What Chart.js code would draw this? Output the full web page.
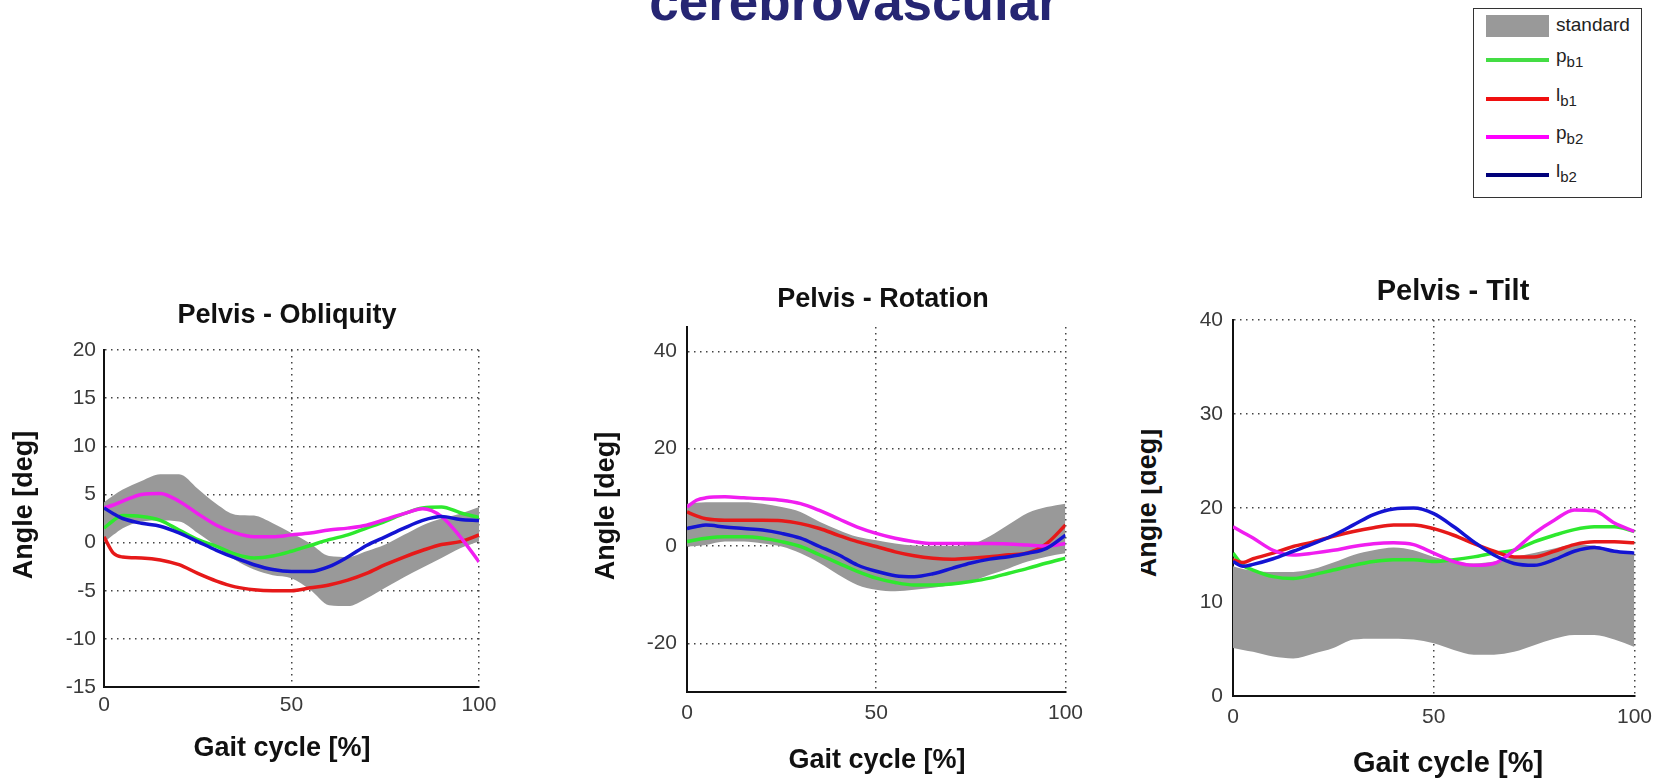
<!DOCTYPE html>
<html>
<head>
<meta charset="utf-8">
<script src="https://cdn.jsdelivr.net/npm/chart.js@4.4.0/dist/chart.umd.min.js"></script>
<style>
  body { margin:0; width:1663px; height:781px; overflow:hidden; background:#fff; position:relative;
         font-family:"Liberation Sans", Arial, sans-serif; }
  canvas { position:absolute; }
  #heading { position:absolute; left:854px; top:-25px; transform:translateX(-50%);
             font:bold 53px/53px "Liberation Sans", Arial, sans-serif; color:#262673; white-space:nowrap; }
  #legend { position:absolute; left:1473px; top:8px; width:167px; height:188px;
            border:1.5px solid #333; background:#fff; color:#222; font-size:19px; }
  #legend .row { position:absolute; left:0; height:0; }
  #legend .swatch { position:absolute; left:12px; width:63px; }
  #legend .txt { position:absolute; left:82px; white-space:nowrap; line-height:20px; top:-11px; }
  #legend sub { font-size:15px; vertical-align:-5px; }
  #tiltClip { position:absolute; left:1141px; top:400px; width:40px; height:200px; overflow:hidden; }
  #tiltLabel { position:absolute; left:6px; top:103px; white-space:nowrap; line-height:27px;
               transform:translate(-50%,-50%) rotate(-90deg);
               font:bold 27px/27px "Liberation Sans", Arial, sans-serif; color:#111; }
</style>
</head>
<body>
<div id="heading">cerebrovascular</div>
<div id="legend"></div>
<div id="tiltClip"><div id="tiltLabel">Angle [deg]</div></div>
<canvas id="obliquity" width="504" height="496" style="left:0px;top:270px"></canvas>
<canvas id="rotation" width="500" height="518" style="left:592px;top:260px"></canvas>
<canvas id="tilt" width="488" height="531" style="left:1173px;top:250px"></canvas>
<script>
// gait cycle samples [%]
const gait = [0, 2.5, 5, 10, 15, 20, 25, 30, 35, 40, 45, 50, 55, 60, 65, 70, 75, 80, 85, 90, 95, 100];
const gaitTicks = [0, 50, 100];

// Pelvis - Obliquity [deg]
const obliqUpper = [4.2, 4.9, 5.5, 6.4, 7.1, 7.1, 5.6, 4.0, 2.9, 2.8, 2.0, 1.0, -0.1, -1.4, -1.5, -0.9, -0.2, 0.8, 1.8, 2.5, 3.0, 3.7];
const obliqLower = [0.0, 0.8, 1.5, 2.2, 2.3, 2.2, 1.0, -0.4, -1.8, -2.8, -3.4, -3.7, -4.9, -6.5, -6.6, -5.8, -4.7, -3.6, -2.6, -1.6, -0.6, 0.1];
const obliqPb1 = [1.5, 2.3, 2.8, 2.7, 2.3, 1.3, 0.3, -0.4, -1.2, -1.6, -1.4, -0.9, -0.3, 0.3, 0.8, 1.5, 2.2, 3.0, 3.6, 3.7, 3.1, 2.6];
const obliqLb1 = [0.6, -1.1, -1.5, -1.6, -1.8, -2.3, -3.2, -4.0, -4.6, -4.9, -5.0, -5.0, -4.7, -4.4, -3.9, -3.2, -2.3, -1.5, -0.8, -0.2, 0.1, 0.8];
const obliqPb2 = [3.6, 3.9, 4.3, 5.0, 5.1, 4.3, 3.0, 1.8, 1.0, 0.6, 0.6, 0.8, 1.0, 1.3, 1.5, 1.8, 2.4, 3.0, 3.5, 2.7, 0.6, -2.0];
const obliqLb2 = [3.6, 3.0, 2.5, 2.0, 1.7, 1.0, 0.1, -0.8, -1.6, -2.3, -2.8, -3.0, -3.0, -2.5, -1.5, -0.3, 0.6, 1.5, 2.3, 2.7, 2.4, 2.3];
const obliqTicks = [-15, -10, -5, 0, 5, 10, 15, 20];

// Pelvis - Rotation [deg]
const rotUpper = [8.7, 8.9, 9.0, 9.0, 9.0, 8.7, 8.0, 7.0, 5.0, 3.3, 1.9, 1.2, 0.5, 0.1, 0.0, 0.0, 0.3, 2.0, 4.4, 6.8, 8.0, 8.7];
const rotLower = [-0.1, 0.0, 0.2, 0.9, 0.9, 0.5, -0.1, -1.5, -3.5, -5.9, -8.0, -9.0, -9.3, -9.0, -8.6, -8.0, -7.3, -5.9, -4.6, -3.2, -2.2, -1.5];
const rotPb1 = [0.9, 1.3, 1.6, 1.9, 1.9, 1.6, 0.9, -0.1, -1.8, -3.5, -5.2, -6.6, -7.5, -8.0, -8.0, -7.8, -7.3, -6.6, -5.6, -4.6, -3.5, -2.5];
const rotLb1 = [7.0, 6.2, 5.6, 5.3, 5.3, 5.3, 5.2, 4.6, 3.6, 2.2, 0.9, -0.1, -1.2, -2.0, -2.5, -2.7, -2.5, -2.2, -1.8, -1.4, 0.5, 4.3];
const rotPb2 = [8.0, 9.4, 9.9, 10.1, 9.9, 9.7, 9.4, 8.7, 7.3, 5.6, 3.9, 2.6, 1.6, 0.9, 0.5, 0.5, 0.5, 0.5, 0.4, 0.2, 0.0, 0.5];
const rotLb2 = [3.6, 4.0, 4.3, 3.9, 3.6, 3.3, 2.6, 1.6, -0.1, -1.8, -3.9, -5.2, -6.1, -6.3, -5.7, -4.6, -3.5, -2.7, -2.2, -1.5, -0.5, 2.2];
const rotTicks = [-20, 0, 20, 40];

// Pelvis - Tilt [deg]
const tiltUpper = [13.8, 13.5, 13.3, 13.2, 13.2, 13.5, 14.2, 15.0, 15.5, 15.8, 15.5, 14.8, 14.3, 14.1, 14.3, 14.8, 15.2, 15.7, 16.1, 16.0, 15.5, 15.2];
const tiltLower = [5.1, 4.9, 4.7, 4.2, 4.0, 4.5, 5.1, 6.0, 6.1, 6.1, 6.0, 5.6, 4.9, 4.4, 4.4, 4.7, 5.4, 6.1, 6.5, 6.5, 6.0, 5.2];
const tiltPb1 = [15.2, 13.9, 13.4, 12.7, 12.5, 12.9, 13.4, 13.9, 14.3, 14.5, 14.5, 14.3, 14.5, 14.8, 15.2, 15.5, 16.4, 17.1, 17.7, 18.0, 18.0, 17.5];
const tiltLb1 = [14.5, 14.2, 14.6, 15.2, 15.9, 16.4, 17.0, 17.5, 17.9, 18.2, 18.2, 17.8, 17.1, 16.2, 15.4, 14.8, 14.8, 15.4, 16.1, 16.4, 16.4, 16.3];
const tiltPb2 = [18.0, 17.4, 16.8, 15.5, 15.0, 15.2, 15.5, 15.9, 16.2, 16.3, 16.1, 15.2, 14.3, 13.9, 14.1, 15.5, 17.3, 18.7, 19.8, 19.7, 18.4, 17.5];
const tiltLb2 = [14.3, 13.8, 14.0, 14.6, 15.4, 16.2, 17.1, 18.2, 19.3, 19.9, 20.0, 19.4, 18.0, 16.4, 15.0, 14.1, 13.9, 14.5, 15.4, 15.8, 15.4, 15.2];
const tiltTicks = [0, 10, 20, 30, 40];

const seriesBase = ['p', 'l', 'p', 'l'];
const seriesSub = ['b1', 'b1', 'b2', 'b2'];
const lineColors = ['#2ee82e', '#e61919', '#f01ef0', '#1414d2'];
const legendColors = ['#44dd44', '#f01010', '#ff00ff', '#00007a'];
const bandColor = '#999999';

const FONT = '"Liberation Sans", Arial, sans-serif';
Chart.defaults.font.family = FONT;

// legend (html so the subscripts are real text)
const legend = document.getElementById('legend');
const rowY = [17, 51, 90, 128, 166];
let html = '<div class="row" style="top:' + rowY[0] + 'px"><div class="swatch" style="top:-11px;height:22px;background:' + bandColor + '"></div><div class="txt">standard</div></div>';
for (let i = 0; i < 4; i++) {
  html += '<div class="row" style="top:' + rowY[i + 1] + 'px"><div class="swatch" style="top:-2px;height:3.5px;background:' + legendColors[i] + '"></div>' +
          '<div class="txt" style="top:-14px">' + seriesBase[i] + '<sub>' + seriesSub[i] + '</sub></div></div>';
}
legend.innerHTML = html;

// titles and axis labels, placed like the matlab figure
const panelText = {
  id: 'panelText',
  afterDraw(chart, args, opts) {
    const ctx = chart.ctx;
    opts.items.forEach(t => {
      ctx.save();
      ctx.font = 'bold ' + (t.size || 27) + 'px ' + FONT;
      ctx.fillStyle = '#111';
      ctx.textAlign = 'center';
      ctx.textBaseline = 'middle';
      ctx.translate(t.x, t.y);
      if (t.rot) ctx.rotate(t.rot);
      ctx.fillText(t.text, 0, 0);
      ctx.restore();
    });
  }
};

function pts(vals) {
  return vals.map((v, i) => ({x: gait[i], y: v}));
}

function line(label, vals, color) {
  return {label: label, data: pts(vals), borderColor: color, borderWidth: 3.5, pointRadius: 0,
          fill: false, cubicInterpolationMode: 'monotone'};
}

function axisCommon() {
  return {
    grid: {color: '#444', lineWidth: 1.5, drawTicks: false},
    border: {display: true, color: '#111', width: 2, dash: [1.5, 4.5]},
  };
}

function makePanel(id, p) {
  const xs = axisCommon(), ys = axisCommon();
  new Chart(document.getElementById(id), {
    type: 'line',
    data: {
      datasets: [
        line('lb2', p.lb2, lineColors[3]),
        line('pb2', p.pb2, lineColors[2]),
        line('lb1', p.lb1, lineColors[1]),
        line('pb1', p.pb1, lineColors[0]),
        {label: 'standard', data: pts(p.upper), borderWidth: 0, pointRadius: 0, backgroundColor: bandColor,
         fill: '+1', cubicInterpolationMode: 'monotone'},
        {label: 'standard-low', data: pts(p.lower), borderWidth: 0, pointRadius: 0, fill: false,
         cubicInterpolationMode: 'monotone'}
      ]
    },
    plugins: [panelText],
    options: {
      responsive: false,
      animation: false,
      devicePixelRatio: 1,
      events: [],
      layout: {padding: p.pad},
      plugins: {
        legend: {display: false},
        tooltip: {enabled: false},
        title: {display: false},
        panelText: {items: p.texts}
      },
      scales: {
        x: Object.assign(xs, {
          type: 'linear', min: 0, max: 100,
          afterBuildTicks: s => { s.ticks = gaitTicks.map(v => ({value: v})); },
          afterFit: s => { s.height = p.xh; },
          ticks: {color: '#3a3a3a', font: {size: 21}, padding: p.xpad, maxRotation: 0, autoSkip: false},
          title: {display: false}
        }),
        y: Object.assign(ys, {
          type: 'linear', min: p.ymin, max: p.ymax,
          afterBuildTicks: s => { s.ticks = p.yticks.map(v => ({value: v})); },
          afterFit: s => { s.width = p.yw; },
          ticks: {color: '#3a3a3a', font: {size: 21}, padding: p.ypad, autoSkip: false},
          title: {display: false}
        })
      }
    }
  });
}

const UP = -Math.PI / 2;

makePanel('obliquity', {
  upper: obliqUpper, lower: obliqLower, pb1: obliqPb1, lb1: obliqLb1, pb2: obliqPb2, lb2: obliqLb2,
  ymin: -15, ymax: 20, yticks: obliqTicks,
  texts: [{text: 'Pelvis - Obliquity', x: 287, y: 46},
          {text: 'Gait cycle [%]', x: 282, y: 479},
          {text: 'Angle [deg]', x: 25, y: 235, rot: UP}],
  pad: {left: 9, right: 25, top: 80, bottom: 0}, yw: 95, xh: 79, xpad: 6, ypad: 8
});

makePanel('rotation', {
  upper: rotUpper, lower: rotLower, pb1: rotPb1, lb1: rotLb1, pb2: rotPb2, lb2: rotLb2,
  ymin: -30, ymax: 45, yticks: rotTicks,
  texts: [{text: 'Pelvis - Rotation', x: 291, y: 40},
          {text: 'Gait cycle [%]', x: 285, y: 501},
          {text: 'Angle [deg]', x: 15, y: 246, rot: UP}],
  pad: {left: 0, right: 25, top: 67, bottom: 0}, yw: 95, xh: 86, xpad: 9, ypad: 10
});

makePanel('tilt', {
  upper: tiltUpper, lower: tiltLower, pb1: tiltPb1, lb1: tiltLb1, pb2: tiltPb2, lb2: tiltLb2,
  ymin: 0, ymax: 40, yticks: tiltTicks,
  texts: [{text: 'Pelvis - Tilt', x: 280, y: 42, size: 29},
          {text: 'Gait cycle [%]', x: 275, y: 514, size: 29}],
  pad: {left: 0, right: 24, top: 70, bottom: 0}, yw: 60, xh: 85, xpad: 9, ypad: 10
});
</script>
</body>
</html>
